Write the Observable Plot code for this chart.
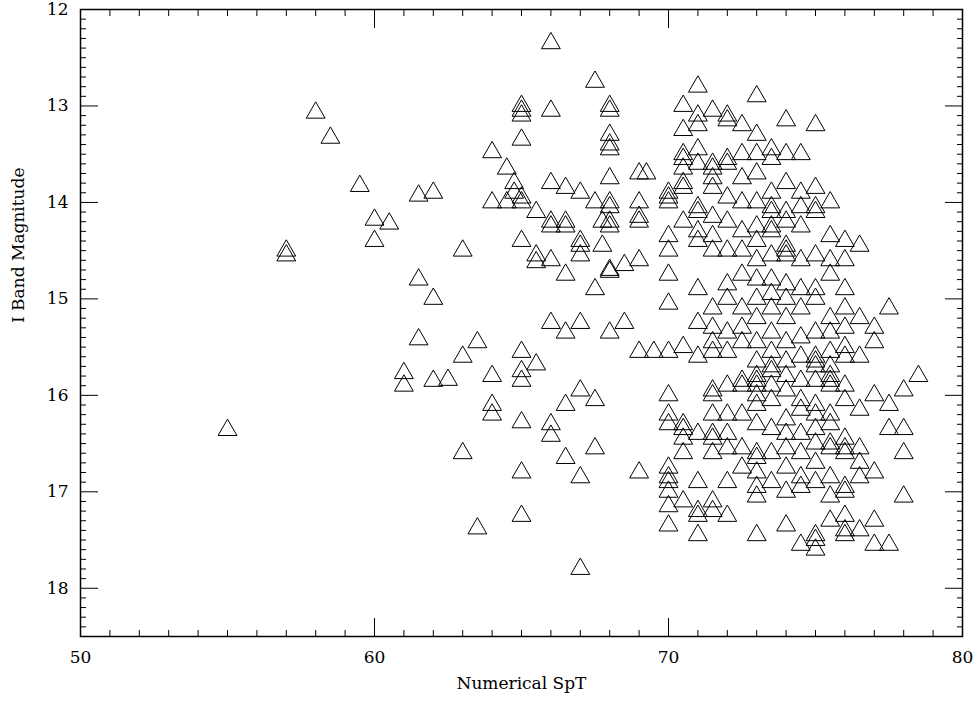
<!DOCTYPE html><html><head><meta charset="utf-8">
<script src="https://cdn.jsdelivr.net/npm/d3@7"></script>
<script src="https://cdn.jsdelivr.net/npm/@observablehq/plot@0.6"></script>
<style>body{margin:0;background:#fff}</style></head><body><div id="c"></div><script>
const columns = [
[55,[16.36]],[57,[14.5,14.55]],[58,[13.07]],[58.5,[13.33]],[59.5,[13.83]],[60,[14.18,14.4]],[60.5,[14.22]],
[61,[15.77,15.9]],[61.5,[13.93,14.8,15.42]],[62,[13.9,15.0,15.85]],[62.5,[15.84]],[63,[14.5,15.6,16.6]],[63.5,[15.45,17.38]],
[64,[13.48,14.0,15.8,16.1,16.2]],[64.5,[14.0,13.65]],[64.75,[13.8,13.9]],
[65,[13.0,13.05,13.1,13.35,13.95,14.0,14.4,15.55,15.75,15.85,16.28,16.8,17.25]],
[65.5,[14.1,14.55,14.62,15.68]],
[66,[12.35,13.05,13.8,14.2,14.25,14.6,15.25,16.3,16.42]],
[66.5,[13.85,14.2,14.25,14.75,15.35,16.1,16.65]],
[67,[13.9,14.4,14.45,14.55,15.25,15.95,16.85,17.8]],
[67.5,[12.75,14.0,14.9,16.05,16.55]],[67.75,[14.2,14.45]],
[68,[13.0,13.05,13.3,13.4,13.45,13.75,14.0,14.05,14.2,14.25,14.7,14.72,15.35]],
[68.5,[14.65,15.25]],[69,[13.7,14.0,14.15,14.2,14.6,15.55,16.8]],[69.25,[13.7]],[69.5,[15.55]],
[70,[13.9,13.95,14.0,14.35,14.5,14.75,15.05,15.55,16.0,16.2,16.3,16.75,16.85,16.9,17.0,17.15,17.35]],
[70.5,[13.0,13.25,13.5,13.55,13.65,13.8,13.85,14.2,15.5,16.3,16.35,16.45,16.6,17.1]],
[71,[12.8,13.1,13.2,13.45,13.6,14.05,14.1,14.3,14.4,14.9,15.25,15.6,16.4,16.9,17.2,17.25,17.45]],
[71.5,[13.05,13.6,13.65,13.75,13.85,14.15,14.35,14.5,15.1,15.3,15.45,15.55,15.95,16.0,16.2,16.4,16.45,16.6,17.1,17.2]],
[72,[13.1,13.15,13.55,13.6,13.95,14.2,14.5,14.85,15.0,15.35,15.55,15.9,16.2,16.4,16.55,16.9,17.25]],
[72.5,[13.2,13.5,13.75,14.0,14.3,14.5,14.75,15.1,15.3,15.45,15.85,15.9,16.2,16.55,16.75]],
[73,[12.9,13.3,13.5,13.7,14.0,14.25,14.4,14.6,14.8,15.0,15.2,15.45,15.65,15.8,15.85,15.9,16.0,16.1,16.3,16.6,16.65,16.8,16.95,17.05,17.45]],
[73.5,[13.45,13.55,13.9,14.05,14.1,14.25,14.3,14.55,14.8,14.95,15.1,15.35,15.55,15.7,15.75,15.9,16.05,16.35,16.6,16.9]],
[74,[13.15,13.5,13.8,14.1,14.2,14.45,14.5,14.55,14.85,15.0,15.2,15.45,15.65,15.8,15.95,16.25,16.4,16.55,16.75,17.0,17.35]],
[74.5,[13.5,13.9,14.05,14.25,14.6,14.9,15.1,15.4,15.6,15.85,16.05,16.15,16.4,16.6,16.85,16.95,17.55]],
[75,[13.2,13.85,14.05,14.1,14.55,14.9,15.0,15.35,15.6,15.65,15.7,15.85,16.1,16.2,16.35,16.5,16.7,16.9,17.45,17.5,17.6]],
[75.5,[14.0,14.35,14.6,14.75,15.2,15.35,15.55,15.7,15.8,15.85,15.9,16.2,16.3,16.5,16.55,16.85,17.05,17.3]],
[76,[14.4,14.6,14.9,15.1,15.3,15.5,15.6,15.9,16.05,16.45,16.55,16.6,16.95,17.0,17.25,17.4,17.45]],
[76.5,[14.45,15.2,15.6,16.15,16.55,16.7,16.85,17.4]],
[77,[15.3,15.45,16.0,16.8,17.3,17.55]],[77.5,[15.1,16.1,16.35,17.55]],[78,[15.95,16.35,16.6,17.05]],[78.5,[15.8]]
];
const xMajor = [50,60,70,80];
const yMajor = [12,13,14,15,16,17,18];
const data = columns.flatMap(([x,ys])=>ys.map(y=>({x,y})));
const font = "DejaVu Serif";
const blank = () => "";
const xMinor = d3.range(51,80,1).filter(v=>v%10);
const yMinor = d3.range(121,185,1).filter(v=>v%10).map(v=>v/10);
const p = Plot.plot({
  width:977, height:701, marginLeft:80, marginRight:15, marginTop:9, marginBottom:65,
  style:{fontFamily:font, fontSize:"17px", color:"#000"},
  x:{domain:[50,80], label:null}, y:{domain:[12,18.5], reverse:true, label:null},
  marks:[
    Plot.frame({stroke:"#000", strokeWidth:1.5}),
    Plot.axisX({anchor:"bottom", ticks:xMajor, tickSize:-18, tickPadding:32, tickFormat:"d", label:null}),
    Plot.axisX({anchor:"bottom", ticks:xMinor, tickSize:-6, tickFormat:blank, label:null}),
    Plot.axisX({anchor:"top", ticks:xMajor, tickSize:-18, tickFormat:blank, label:null}),
    Plot.axisX({anchor:"top", ticks:xMinor, tickSize:-6, tickFormat:blank, label:null}),
    Plot.axisY({anchor:"left", ticks:yMajor, tickSize:-18, tickPadding:30, tickFormat:"d", label:null}),
    Plot.axisY({anchor:"left", ticks:yMinor, tickSize:-6, tickFormat:blank, label:null}),
    Plot.axisY({anchor:"right", ticks:yMajor, tickSize:-18, tickFormat:blank, label:null}),
    Plot.axisY({anchor:"right", ticks:yMinor, tickSize:-6, tickFormat:blank, label:null}),
    Plot.dot(data,{x:"x",y:"y",symbol:"triangle",r:7,stroke:"#000",strokeWidth:1,fill:"none"}),
    Plot.text(["Numerical SpT"],{frameAnchor:"bottom",dy:52,fontFamily:font,fontSize:17}),
    Plot.text(["I Band Magnitude"],{frameAnchor:"left",rotate:-90,dx:-62,fontFamily:font,fontSize:17})
  ]
});
document.getElementById("c").appendChild(p);
</script></body></html>
